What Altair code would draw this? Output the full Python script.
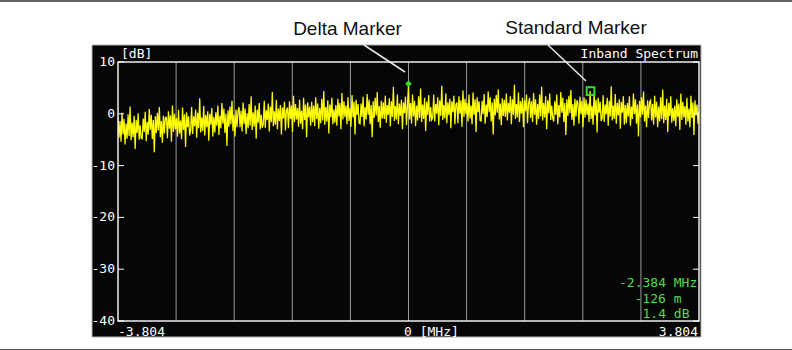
import altair as alt
import pandas as pd

# ---------------- data ----------------
F_START = -3.804
F_STOP = 3.804

LEVEL_DB = [
    -0.7, -4.6, -1.4, -5.4, 0.2, -4.0, -1.0, -5.9, -1.9, -4.8, -0.1, -4.3,
    1.4, -5.1, -1.7, -4.5, -0.4, -6.8, -1.2, -3.7, 0.1, -5.0, -2.2, -4.7,
    -4.8, -0.9, -3.5, 0.4, -5.3, -1.6, -4.0, 0.9, -3.1, -0.2, -4.9, -1.2,
    -7.4, -0.5, -3.7, 0.2, -3.2, 1.3, -4.5, -1.4, -5.6, -0.4, -3.8, -0.7,
    -0.7, -4.7, 0.5, -2.9, -0.3, -5.4, 1.6, -3.5, 0.0, -3.0, -0.8, -4.4,
    0.8, -3.8, -1.3, -4.9, 1.2, -3.1, -0.1, -6.4, 0.3, -2.6, -0.5, -4.2,
    -3.2, 1.3, -3.9, -0.5, -2.4, 0.8, -4.6, 0.2, -2.8, 3.0, -3.6, -0.7,
    -3.3, 1.5, -4.2, -0.2, -2.6, 0.5, -5.2, 0.0, -2.1, 1.1, -4.4, -0.6,
    -3.6, 0.3, -2.3, 1.6, -4.1, -0.4, -2.8, 2.1, -1.9, 1.0, -3.7, 0.0,
    -6.2, 0.7, -2.5, 1.4, -2.0, 2.5, -3.3, -0.2, -4.4, 0.8, -2.6, 0.5,
    1.3, -2.6, 0.6, -3.4, 2.2, -2.0, 1.0, -3.9, 0.1, -2.8, 1.9, -2.3,
    3.4, -3.1, 0.3, -2.5, 1.6, -4.8, 0.8, -1.7, 2.1, -3.0, -0.2, -2.7,
    -2.0, 2.5, -2.7, 0.7, -1.2, 2.0, -3.4, 1.4, -1.6, 4.2, -2.4, 0.5,
    -2.1, 2.7, -3.0, 1.0, -1.4, 1.7, -4.0, 1.2, -0.9, 2.3, -3.2, 0.6,
    1.2, -2.8, 2.4, -1.0, 1.6, -3.5, 3.5, -1.6, 1.9, -1.1, 1.1, -2.5,
    2.7, -1.9, 0.6, -3.0, 3.1, -1.2, 1.8, -4.5, 2.2, -0.7, 1.4, -2.3,
    2.3, -1.6, 1.6, -2.4, 3.2, -1.0, 2.0, -2.9, 1.1, -1.8, 2.9, -1.3,
    4.4, -2.1, 1.3, -1.5, 2.6, -3.8, 1.8, -0.7, 3.1, -2.0, 0.8, -1.7,
    1.7, -2.3, 2.9, -0.5, 2.1, -3.0, 4.0, -1.1, 2.4, -0.6, 1.6, -2.0,
    3.2, -1.4, 1.1, -2.5, 3.6, -0.7, 2.3, -4.0, 2.7, -0.2, 1.9, -1.8,
    -1.9, 2.0, -0.6, 3.3, -2.4, 1.3, -1.1, 3.8, -0.2, 2.7, -2.0, 1.7,
    -4.5, 2.4, -0.8, 3.1, -0.3, 4.2, -1.6, 1.5, -2.7, 2.5, -0.9, 2.2,
    -1.0, 3.5, -1.7, 1.7, -0.2, 3.0, -2.4, 2.4, -0.6, 5.2, -1.4, 1.5,
    -1.1, 3.7, -2.0, 2.0, -0.4, 2.7, -3.0, 2.2, 0.1, 3.3, -2.2, 1.6,
    5.8, -1.1, 2.1, -1.9, 3.7, -0.5, 2.5, -2.4, 1.6, -1.3, 3.4, -0.8,
    4.9, -1.6, 1.8, -1.0, 3.1, -3.3, 2.3, -0.2, 3.6, -1.5, 1.3, -1.2,
    -0.8, 3.7, -1.5, 1.9, 0.0, 3.2, -2.2, 2.6, -0.4, 5.4, -1.2, 1.7,
    -0.9, 3.9, -1.8, 2.2, -0.2, 2.9, -2.8, 2.4, 0.3, 3.5, -2.0, 1.8,
    2.2, -1.8, 3.4, 0.0, 2.6, -2.5, 4.5, -0.6, 2.9, -0.1, 2.1, -1.5,
    3.7, -0.9, 1.6, -2.0, 4.1, -0.2, 2.8, -3.5, 3.2, 0.3, 2.4, -1.3,
    -1.4, 2.5, -0.1, 3.8, -1.9, 1.8, -0.6, 4.3, 0.3, 3.2, -1.5, 2.2,
    -4.0, 2.9, -0.3, 3.6, 0.2, 4.7, -1.1, 2.0, -2.2, 3.0, -0.4, 2.7,
    -0.6, 3.9, -1.3, 2.1, 0.2, 3.4, -2.0, 2.8, -0.2, 5.6, -1.0, 1.9,
    -0.7, 4.1, -1.6, 2.4, 0.0, 3.1, -2.6, 2.6, 0.5, 3.7, -1.8, 2.0,
    3.1, -0.8, 2.4, -1.6, 4.0, -0.2, 2.8, -2.1, 1.9, -1.0, 3.7, -0.5,
    5.2, -1.3, 2.1, -0.7, 3.4, -3.0, 2.6, 0.1, 3.9, -1.2, 1.6, -0.9,
    -1.5, 2.4, -0.2, 3.7, -2.0, 1.7, -0.7, 4.2, 0.2, 3.1, -1.6, 2.1,
    -4.1, 2.8, -0.4, 3.5, 0.1, 4.6, -1.2, 1.9, -2.3, 2.9, -0.5, 2.6,
    2.1, -1.9, 3.3, -0.1, 2.5, -2.6, 3.2, -0.7, 2.8, -0.2, 2.0, -1.6,
    4.4, -1.0, 1.5, -2.1, 4.0, -0.3, 2.7, -3.6, 3.1, 0.2, 2.3, -1.4,
    -0.9, 3.6, -1.6, 1.8, -0.1, 3.1, -2.3, 2.5, -0.5, 5.3, -1.3, 1.6,
    -1.0, 3.8, -1.9, 2.1, -0.3, 2.8, -2.9, 2.3, 0.2, 3.4, -2.1, 1.7,
    -1.8, 2.1, -0.5, 3.4, -2.3, 1.4, -1.0, 3.9, -0.1, 2.8, -1.9, 1.8,
    -4.4, 2.5, -0.7, 3.2, -0.2, 4.3, -1.5, 1.6, -2.6, 2.6, -0.8, 2.3,
    2.6, -1.3, 1.9, -2.1, 3.5, -0.7, 2.3, -2.6, 1.4, -1.5, 3.2, -1.0,
    4.7, -1.8, 1.6, -1.2, 2.9, -3.5, 2.1, -0.4, 3.4, -1.7, 1.1, -1.4,
    1.6, -2.4, 2.8, -0.6, 2.0, -3.1, 3.9, -1.2, 2.3, -0.7, 1.5, -2.1,
    3.1, -1.5, 1.0, -2.6, 3.5, -0.8, 2.2, -4.1, 2.6, -0.3, 1.8, -1.9,
    0.4,
]

GRID_MHZ = [-3.0432, -2.2824, -1.5216, -0.7608, 0.0, 0.7608, 1.5216, 2.2824, 3.0432]
Y_TICKS = [10, 0, -10, -20, -30, -40]
X_LABEL_POS = [F_START, 0.0, F_STOP]
X_LABELS = ["-3.804", "0 [MHz]", "3.804"]
MARKER_F = [0.0, 2.384]
MARKER_DB = [5.8, 4.4]
MARKER_NAME = ["Delta Marker", "Standard Marker"]
READOUT = ["-2.384 MHz", "-126 m", "1.4 dB"]

# ---------------- tables ----------------
step = (F_STOP - F_START) / (len(LEVEL_DB) - 1)
trace_df = pd.DataFrame({"f": [F_START + i * step for i in range(len(LEVEL_DB))],
                         "db": LEVEL_DB})
grid_df = pd.DataFrame({"f": GRID_MHZ})
ytick_df = pd.DataFrame({"v": Y_TICKS, "t": [str(v) for v in Y_TICKS]})
one = pd.DataFrame({"a": [0]})

W, H = 581, 259
MONO = "DejaVu Sans Mono"
GREEN = "#4fdc4f"
xs = alt.Scale(domain=[F_START, F_STOP], nice=False, zero=False)
ys = alt.Scale(domain=[-40, 10], nice=False, zero=False)

screen = alt.Chart(one).mark_rect(fill="#060606", stroke="#b4b4b4", strokeWidth=1).encode(
    x=alt.value(-26), x2=alt.value(583), y=alt.value(-17), y2=alt.value(275))

grid = alt.Chart(grid_df).mark_rule(color="#9a9a9a", strokeWidth=1).encode(
    x=alt.X("f:Q", scale=xs, axis=None), y=alt.value(0), y2=alt.value(H))

trace = alt.Chart(trace_df).mark_line(color="#ffff00", strokeWidth=1.25, clip=True).encode(
    x=alt.X("f:Q", scale=xs, axis=None),
    y=alt.Y("db:Q", scale=ys, axis=None))

frame = alt.Chart(one).mark_rect(fill="transparent", stroke="#f0f0f0", strokeWidth=1.5).encode(
    x=alt.value(0), x2=alt.value(W), y=alt.value(0), y2=alt.value(H))

ticks_l = alt.Chart(ytick_df).mark_rule(color="white", strokeWidth=1).encode(
    x=alt.value(0), x2=alt.value(6), y=alt.Y("v:Q", scale=ys, axis=None))
ticks_r = alt.Chart(ytick_df).mark_rule(color="white", strokeWidth=1).encode(
    x=alt.value(W - 6), x2=alt.value(W), y=alt.Y("v:Q", scale=ys, axis=None))
ylabels = alt.Chart(ytick_df).mark_text(color="white", font=MONO, fontSize=13, align="right",
                                        baseline="middle").encode(
    x=alt.value(-3), y=alt.Y("v:Q", scale=ys, axis=None), text="t:N")

def xlabel(i, align, dx):
    d = pd.DataFrame({"f": [X_LABEL_POS[i]], "t": [X_LABELS[i]]})
    return alt.Chart(d).mark_text(color="white", font=MONO, fontSize=13, align=align,
                                  baseline="alphabetic", dx=dx).encode(
        x=alt.X("f:Q", scale=xs, axis=None), y=alt.value(274), text="t:N")

xl0 = xlabel(0, "left", 0)
xl1 = xlabel(1, "left", -4.5)
xl2 = xlabel(2, "right", -1)

def txt(s, x, y, align="left", color="white", font=MONO, size=13):
    return alt.Chart(pd.DataFrame({"t": [s]})).mark_text(
        color=color, font=font, fontSize=size, align=align, baseline="alphabetic").encode(
        x=alt.value(x), y=alt.value(y), text="t:N")

db_lbl = txt("[dB]", 3, -4.5)
title_lbl = txt("Inband Spectrum", 580, -4.5, align="right")
ro1 = txt(READOUT[0], 501, 225, color=GREEN)
ro2 = txt(READOUT[1], 516.5, 241, color=GREEN)
ro3 = txt(READOUT[2], 524.5, 256, color=GREEN)

delta = alt.Chart(pd.DataFrame({"f": [MARKER_F[0]], "db": [MARKER_DB[0]]})).mark_point(
    shape="diamond", filled=True, color="#33dd33", size=45, opacity=1).encode(
    x=alt.X("f:Q", scale=xs, axis=None), y=alt.Y("db:Q", scale=ys, axis=None))
std = alt.Chart(pd.DataFrame({"f": [MARKER_F[1]], "db": [MARKER_DB[1]]})).mark_point(
    shape="square", filled=False, color="#33dd33", strokeWidth=2, size=60, opacity=1).encode(
    x=alt.X("f:Q", scale=xs, axis=None), y=alt.Y("db:Q", scale=ys, axis=None))

lead1 = alt.Chart(one).mark_rule(color="#e8e8e8", strokeWidth=1.5).encode(
    x=alt.value(246), y=alt.value(-17), x2=alt.value(287), y2=alt.value(10))
lead2 = alt.Chart(one).mark_rule(color="#e8e8e8", strokeWidth=1.5).encode(
    x=alt.value(430), y=alt.value(-17), x2=alt.value(468), y2=alt.value(19))

call1 = txt(MARKER_NAME[0], 229.5, -27, align="center", color="#111111",
            font="Liberation Sans", size=19)
call2 = txt(MARKER_NAME[1], 458, -28, align="center", color="#111111",
            font="Liberation Sans", size=19)

top_line = alt.Chart(one).mark_rule(color="#333333", strokeWidth=1.5).encode(
    x=alt.value(-118), x2=alt.value(674), y=alt.value(-61))
bot_line = alt.Chart(one).mark_rule(color="#555555", strokeWidth=1).encode(
    x=alt.value(-118), x2=alt.value(674), y=alt.value(287.5))

chart = alt.layer(
    screen, grid, trace, frame, ticks_l, ticks_r, ylabels, xl0, xl1, xl2,
    db_lbl, title_lbl, ro1, ro2, ro3, delta, std, lead1, lead2,
    call1, call2, top_line, bot_line,
).properties(
    width=W, height=H,
    autosize=alt.AutoSizeParams(type="none"),
    padding={"left": 118, "top": 62, "right": 93, "bottom": 29},
    background="white",
).configure_view(stroke="transparent")

chart.save("out.html", embed_options={"renderer": "svg", "actions": False})
